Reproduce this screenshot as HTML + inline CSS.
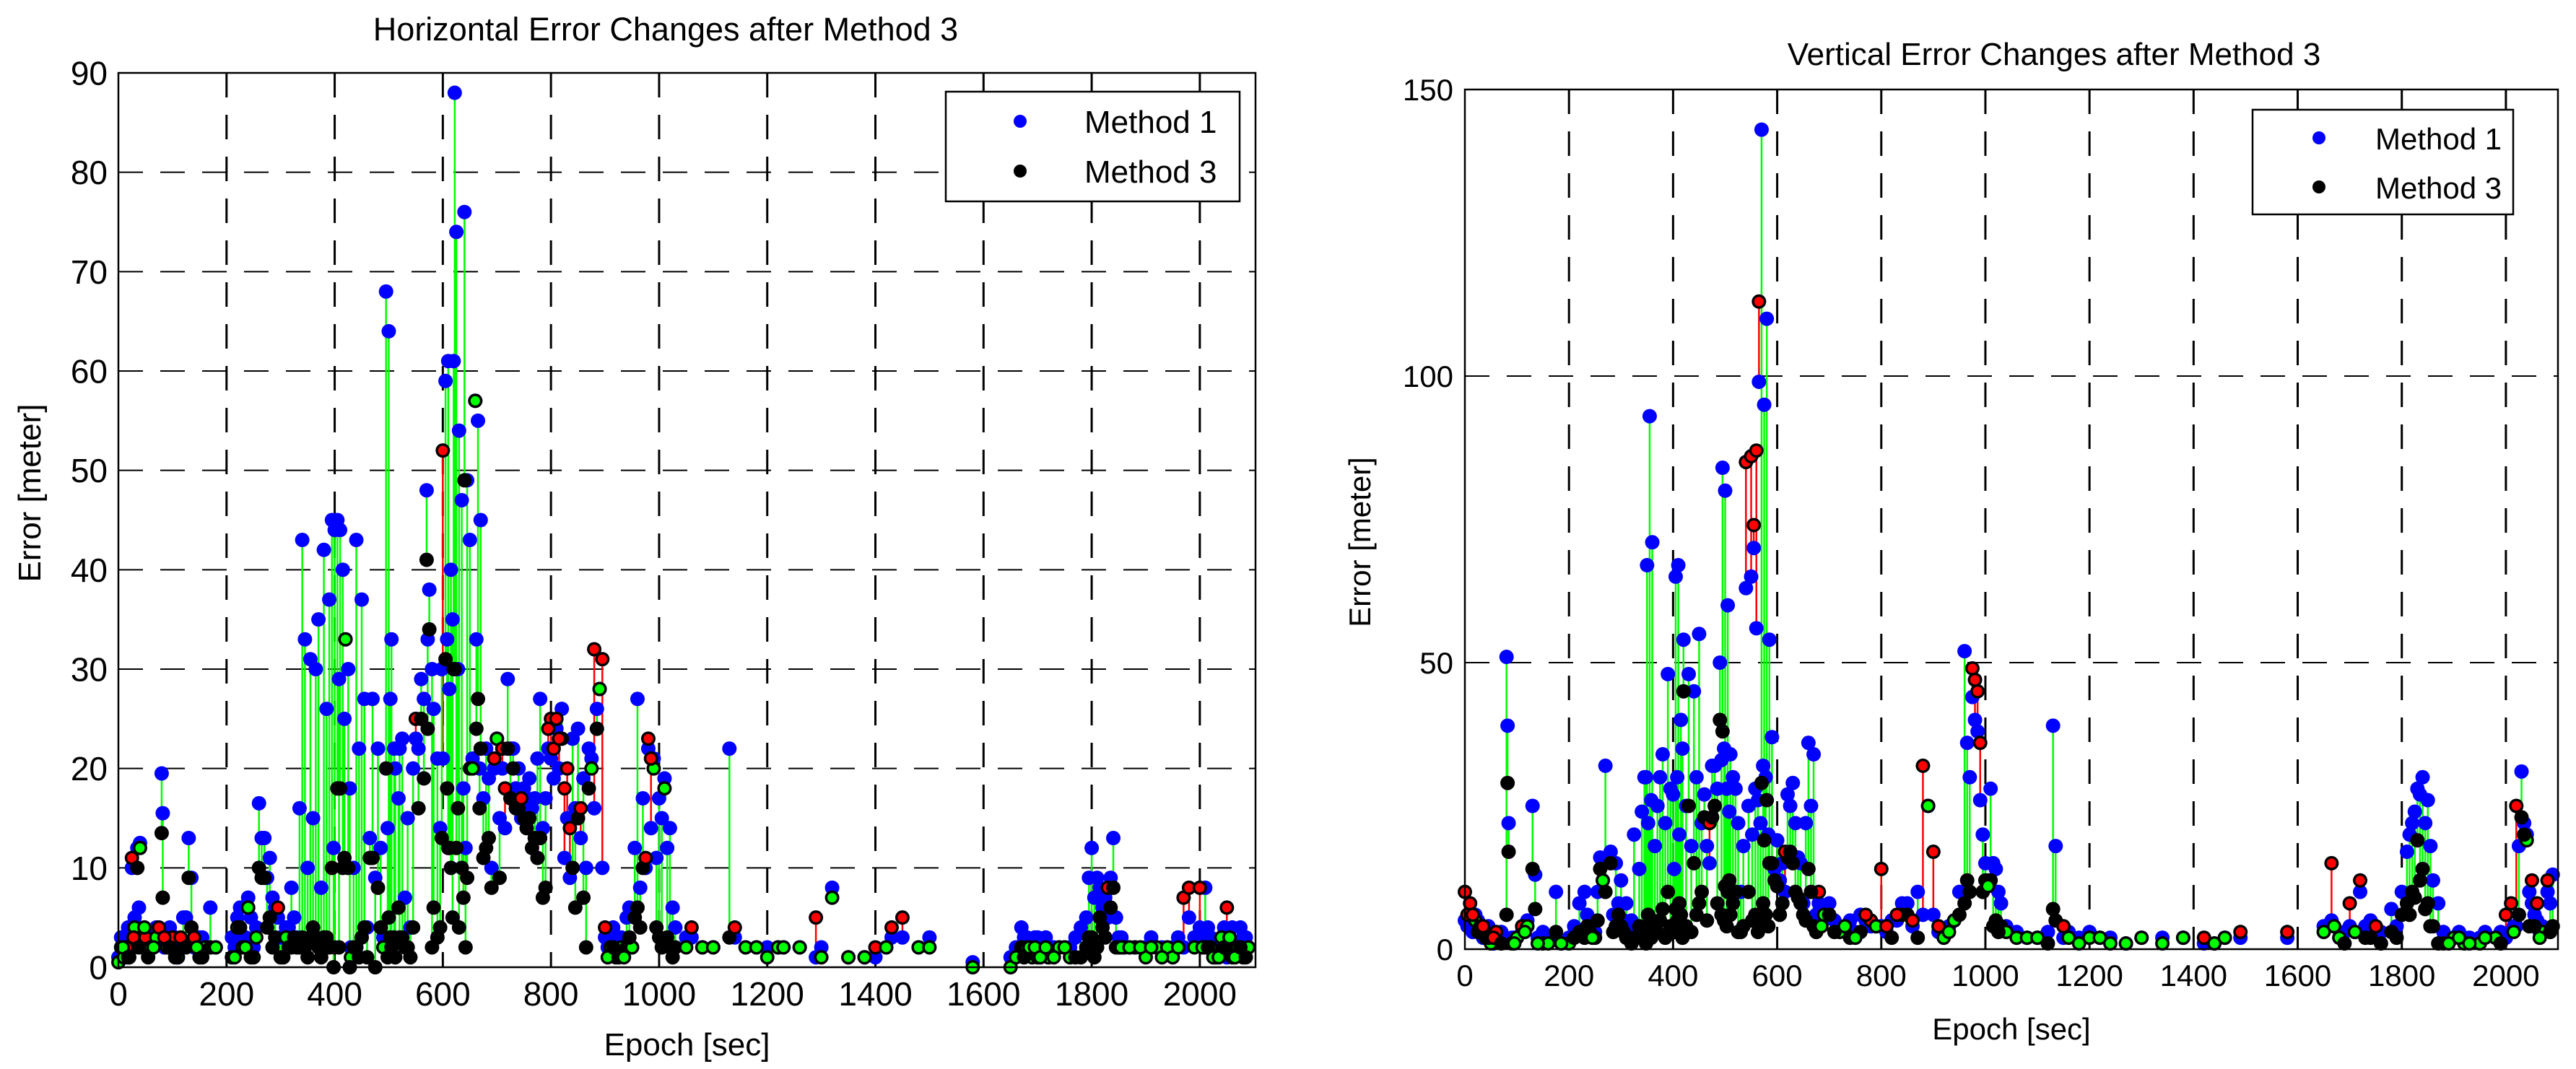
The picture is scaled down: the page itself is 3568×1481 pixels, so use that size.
<!DOCTYPE html>
<html><head><meta charset="utf-8"><style>
html,body{margin:0;padding:0;background:#fff;}
svg{display:block;font-family:"Liberation Sans",Arial,sans-serif;}
</style></head><body>
<svg id="fig" width="3568" height="1481" viewBox="0 0 3568 1481" xmlns="http://www.w3.org/2000/svg">
<g id="left"></g>
<g id="right"></g>
</svg>
<script>
// ---- Horizontal error data (epoch [sec], Method 1 error, Method 3 error) ----
const hEpoch = [
0,5,10,15,20,25,30,35,40,45,
50,60,70,80,82,90,100,110,120,130,
135,140,150,160,170,180,210,220,230,240,
250,260,265,270,280,290,300,310,320,330,
340,345,355,365,370,380,390,395,400,405,
410,415,420,425,430,440,450,460,470,480,
490,495,500,505,510,520,530,540,550,560,
570,575,580,590,600,605,610,615,620,622,
625,630,635,640,645,650,660,665,670,680,
690,700,710,720,730,740,750,760,770,780,
790,800,810,820,830,840,850,860,870,880,
890,895,900,910,920,930,940,950,960,970,
980,990,1000,1010,1020,1030,1050,1060,1080,1100,
1130,1140,1160,1180,1200,1220,1230,1260,1290,1300,
1320,1350,1380,1400,1420,1430,1450,1480,1500,1580,
1650,1670,1680,1690,1700,1720,1740,1760,1780,1800,
1810,1820,1830,1840,1850,1860,1880,1900,1920,1940,
1950,1970,1980,2000,2010,2020,2030,2040,2050,2060,
2070,2080,2090,
335,350,360,375,385,398,408,418,428,435,
445,455,465,475,485,498,503,512,518,525,
535,545,555,565,572,583,595,598,608,612,
618,628,638,642,655,662,668,675,685,695,
705,715,725,735,745,755,765,775,785,795,
805,815,825,835,845,855,865,875,885,905,
915,925,935,945,955,965,975,985,995,1005,
1015,1025,8,18,28,38,48,55,65,75,
85,95,105,115,125,145,155,215,225,235,
245,255,275,285,295,305,315,325,1660,1675,
1685,1695,1705,1715,1730,1750,1770,1790,1795,1805,
1815,1825,1835,1845,1855,1870,1890,1910,1930,1960,
1990,2005,2015,2025,2035,2045,2055,2065,2075,2085];
const hM1 = [
1,3,2,1,2,10,5,12,12.5,3,
2,3,4,19.5,15.5,3,2,1,5,13,
9,2,3,2,6,2,3,5,3,7,
2,16.5,13,13,11,6,3,4,8,3,
43,33,31,30,35,42,37,45,44,45,
44,40,33,30,2,43,37,4,27,22,
3,68,64,33,22,22,7,4,23,29,
48,38,30,21,21,59,61,40,61,88,
74,54,47,76,49,43,57,55,45,22,
10,23,20,29,22,20,18,19,17,27,
17,21,24,26,15,23,24,19,22,16,
28,10,3,2,2,3,5,2,27,17,
22,21,17,19,14,4,3,3,2,2,
22,3,2,2,2,2,2,2,1,2,
8,1,1,1,2,3,3,2,3,0.5,
1,4,3,2,3,2,2,2,4,12,
9,6,5,13,3,2,2,2,2,2,
2,2,5,4,8,3,2,3,1,4,
2,3,2,
16,10,15,8,26,12,29,25,18,10,
22,27,13,9,12,14,27,20,17,23,
15,20,22,27,33,26,14,30,33,28,
35,30,18,12,21,33,20,17,19,20,
15,14,22,18,15,17,16,21,14,22,
19,20,11,9,16,13,10,21,26,2,
4,3,2,6,12,8,10,14,11,15,
12,6,3,4,2,6,4,3,2,3,
2,4,3,2,5,2,3,2,6,3,
5,4,9,7,5,3,4,5,2,3,
2,3,2,3,2,2,3,5,9,7,
8,7,9,5,3,2,2,3,2,3,
3,3,4,2,2,4,3,2,4,3];
const hM3 = [
0.5,2,1,2,1,11,4,10,12,2,
3,2,3,13.5,7,2,3,1,2,9,
4,3,1,2,2,2,1,4,2,6,
1,10,9,9,5,3,1,3,2,2,
3,2,3,3,2,3,2,10,2,18,
18,10,33,10,1,2,3,1,11,8,
2,20,5,2,3,3,2,1,25,25,
41,34,2,3,52,31,12,10,30,30,
12,4,10,49,9,20,57,27,22,12,
8,23,22,22,20,16,15,15,13,13,
8,25,25,23,20,10,15,7,18,32,
28,31,4,2,1,2,2,2,6,10,
23,20,3,18,2,2,2,4,2,2,
3,4,2,2,1,2,2,2,5,1,
7,1,1,2,2,4,5,2,2,0,
0,2,2,1,1,1,2,1,1,3,
2,4,8,8,2,2,2,1,2,2,
1,7,8,8,2,2,1,3,6,1,
2,1,2,
2,1,4,1,3,0,2,11,0,2,
1,4,11,0,4,1,3,1,6,3,
2,4,16,19,24,6,4,13,18,12,
5,16,7,2,20,24,16,11,13,21,
9,18,17,16,17,14,12,11,7,24,
22,23,18,14,6,16,2,20,24,1,
2,1,1,3,5,4,11,21,4,2,
3,1,2,1,3,2,4,1,2,4,
3,2,1,3,2,2,1,1,4,2,
1,3,4,2,6,1,2,3,1,1,
2,2,1,2,1,2,1,2,3,1,
5,3,6,2,2,2,2,2,1,2,
2,2,2,1,1,2,3,1,2,1];

// ---- Vertical error data ----
const vEpoch = [
0,5,10,20,30,40,50,60,80,82,
84,90,100,110,120,130,135,150,160,175,
200,220,230,240,250,260,270,280,290,300,
310,320,330,340,345,350,355,360,370,380,
390,400,405,410,415,420,430,440,450,460,
470,480,490,495,500,505,510,520,530,540,
550,555,560,565,570,575,580,585,590,600,
610,620,630,640,650,660,670,680,690,700,
720,740,760,780,800,820,840,850,870,880,
890,900,920,940,960,965,970,975,980,985,
990,1000,1010,1020,1030,1040,1060,1080,1100,1120,
1130,1135,1150,1160,1180,1200,1220,1240,1270,1300,
1340,1380,1420,1440,1460,1490,1580,1650,1665,1670,
1680,1700,1710,1720,1740,1750,1780,1800,1810,1820,
1830,1840,1850,1860,1870,1880,1900,1920,1950,1980,
2000,2010,2020,2030,2040,2050,2060,2070,2080,2090,
325,335,348,352,358,365,375,385,395,402,
408,412,418,425,435,445,455,465,475,485,
493,498,503,508,515,525,535,545,552,558,
563,568,573,578,583,595,605,615,625,635,
645,655,665,675,685,710,730,750,770,790,
810,830,860,910,930,950,995,1005,1015,1025,
15,25,35,45,55,70,95,115,140,185,
210,235,245,255,265,285,295,305,315,1690,
1730,1760,1790,1815,1825,1835,1845,1855,1890,1910,
1930,1960,1990,2015,2025,2035,2045,2055,2065,2085];
const vM1 = [
5,4,4,6,3,3,2,2,51,39,
22,2,2,3,5,25,13,3,2,10,
2,8,10,5,3,16,32,17,15,12,
8,5,3,24,30,67,93,71,25,34,
48,27,65,67,40,54,48,45,55,27,
15,32,50,84,80,60,34,28,10,63,
65,70,56,99,143,95,110,54,37,19,
15,27,29,16,8,36,34,8,7,8,
4,5,6,4,4,5,8,8,10,6,
25,6,3,5,52,36,30,44,40,38,
26,15,28,14,8,4,3,2,2,3,
39,18,2,3,2,3,2,2,1,2,
2,2,1,1,2,2,2,4,5,4,
2,4,3,10,5,3,7,10,17,22,
28,30,26,12,8,3,2,2,2,2,
2,3,4,31,20,8,5,4,10,13,
20,14,30,22,26,18,30,22,28,14,
30,20,35,25,18,30,22,18,32,28,
33,35,28,24,30,22,18,25,20,28,
26,22,32,30,20,14,12,10,25,22,
15,22,25,6,5,5,4,3,5,4,
3,5,4,3,4,10,20,12,15,10,
3,5,2,4,1,3,2,4,2,1,
4,6,3,10,12,6,8,5,4,3,
4,3,4,20,24,27,22,18,2,3,
2,3,3,4,18,22,10,6,3,8];
const vM3 = [
10,6,8,5,4,2,1,3,6,29,
17,1,2,4,4,14,7,1,1,3,
1,3,2,3,2,14,10,15,4,4,
2,1,2,3,2,4,3,5,3,7,
10,4,7,3,6,45,25,15,8,23,
22,25,40,38,11,10,6,10,3,85,
86,74,87,113,29,19,26,15,15,11,
8,16,15,9,6,14,4,10,6,6,
3,2,3,5,14,2,6,6,2,32,
25,17,2,5,8,12,10,49,47,45,
36,12,12,5,4,3,2,2,2,1,
7,5,4,2,1,2,2,1,1,2,
1,2,2,1,2,3,3,3,15,4,
2,8,3,12,2,4,3,6,8,10,
19,14,8,4,1,1,2,1,1,2,
6,8,25,23,19,12,8,3,12,4,
2,4,1,6,2,3,5,2,4,3,
5,8,2,4,3,6,10,5,23,8,
6,5,4,12,8,3,4,10,5,6,
3,5,8,6,4,12,6,17,17,10,
8,5,10,3,4,3,4,2,6,4,
4,6,5,4,3,6,10,11,4,3,
6,3,4,2,2,1,1,3,1,1,
2,4,2,5,12,3,6,3,2,1,
2,1,2,6,9,12,7,4,1,2,
1,2,1,3,6,20,4,4,2,3];

const NS = "http://www.w3.org/2000/svg";
function mk(tag, attrs, parent, text){
  const e = document.createElementNS(NS, tag);
  for (const k in attrs) e.setAttribute(k, attrs[k]);
  if (text !== undefined) e.textContent = text;
  parent.appendChild(e);
  return e;
}

function drawChart(g, cfg, ep, m1, m3){
  const {L,R,T,B,xmax,ymax,yticks,xgrid,title,titleY,titleX,labelFont,xLabelY,yLabelX,yLabelY,legend} = cfg;
  const n = Math.min(ep.length, m1.length, m3.length);
  const xs = v => L + (v/xmax)*(R-L);
  const ys = v => B - (v/ymax)*(B-T);
  xgrid.forEach(t => {
    if (t===0) return;
    const l = mk('line',{x1:xs(t),x2:xs(t),y1:T,y2:B,stroke:'#000','stroke-width':3,'stroke-dasharray':'34,24'},g);
    
    
  });
  yticks.forEach(t => {
    if (t===0) return;
    const l = mk('line',{x1:L,x2:R,y1:ys(t),y2:ys(t),stroke:'#000','stroke-width':2,'stroke-dasharray':'34,24'},g);
    
    
  });
  for (let i=0;i<n;i++){
    const col = m3[i] > m1[i] ? '#ff0000' : '#00ff00';
    const l = mk('line',{x1:xs(ep[i]),x2:xs(ep[i]),y1:ys(m1[i]),y2:ys(m3[i]),stroke:col,'stroke-width':2.5},g);
    
    
  }
  for (let i=0;i<n;i++){
    const c = mk('circle',{cx:xs(ep[i]),cy:ys(m1[i]),r:10,fill:'#0000ff'},g);
    
    
  }
  for (let i=0;i<n;i++){
    const c = mk('circle',{cx:xs(ep[i]),cy:ys(m3[i]),r:10,fill:'#000'},g);
    
    
    let inner = null;
    if (m3[i] > m1[i]) inner = '#ff0000';
    else if (m1[i]-m3[i] < 1.2) inner = '#00ff00';
    if (inner){
      const d = mk('circle',{cx:xs(ep[i]),cy:ys(m3[i]),r:6.5,fill:inner},g);
      
      
    }
  }
  const box = mk('rect',{x:L,y:T,width:R-L,height:B-T,fill:'none',stroke:'#000','stroke-width':2.5},g);
  
  
  xgrid.forEach(t => {
    const tx = mk('text',{x:xs(t),y:B+cfg.xTickDy,'font-size':cfg.tickFont,'text-anchor':'middle'},g,String(t));
    
    
  });
  yticks.forEach(t => {
    const tx = mk('text',{x:L-cfg.yTickDx,y:ys(t)+cfg.tickFont*0.36,'font-size':cfg.tickFont,'text-anchor':'end'},g,String(t));
    
    
  });
  const tt = mk('text',{x:titleX,y:titleY,'font-size':cfg.titleFont,'text-anchor':'middle'},g,title);
  
  
  const xl = mk('text',{x:(L+R)/2,y:xLabelY,'font-size':labelFont,'text-anchor':'middle'},g,'Epoch [sec]');
  
  
  const yl = mk('text',{x:0,y:0,'font-size':labelFont,'text-anchor':'middle',transform:`translate(${yLabelX},${yLabelY}) rotate(-90)`},g,'Error [meter]');
  
  
  const lg = mk('g',{},g);
  
  
  mk('rect',{x:legend.x,y:legend.y,width:legend.w,height:legend.h,fill:'#fff',stroke:'#000','stroke-width':2.5},lg);
  const e1 = mk('circle',{cx:legend.dx,cy:legend.y1,r:9,fill:'#0000ff'},lg);
  
  
  const t1 = mk('text',{x:legend.tx,y:legend.y1+16,'font-size':legend.fs},lg,'Method 1');
  
  
  const e3 = mk('circle',{cx:legend.dx,cy:legend.y2,r:9,fill:'#000'},lg);
  
  
  const t3 = mk('text',{x:legend.tx,y:legend.y2+16,'font-size':legend.fs},lg,'Method 3');
  
  
}

drawChart(document.getElementById('left'), {
  L:164,R:1739,T:101,B:1340,xmax:2103,ymax:90,
  yticks:[0,10,20,30,40,50,60,70,80,90],
  xgrid:[0,200,400,600,800,1000,1200,1400,1600,1800,2000],
  title:'Horizontal Error Changes after Method 3',titleX:922,titleY:56,titleFont:45,
  tickFont:46,xTickDy:53,yTickDx:15,labelFont:44,xLabelY:1462,yLabelX:56,yLabelY:683,
  legend:{x:1310,y:127,w:407,h:152,dx:1413,y1:168,y2:237,tx:1502,fs:44}
}, hEpoch, hM1, hM3);

drawChart(document.getElementById('right'), {
  L:2029,R:3543,T:124,B:1315,xmax:2100,ymax:150,
  yticks:[0,50,100,150],
  xgrid:[0,200,400,600,800,1000,1200,1400,1600,1800,2000],
  title:'Vertical Error Changes after Method 3',titleX:2845,titleY:90,titleFont:44,
  tickFont:42,xTickDy:51,yTickDx:16,labelFont:42,xLabelY:1440,yLabelX:1898,yLabelY:751,
  legend:{x:3120,y:152,w:361,h:145,dx:3212,y1:191,y2:259,tx:3290,fs:42}
}, vEpoch, vM1, vM3);
</script>
</body></html>
